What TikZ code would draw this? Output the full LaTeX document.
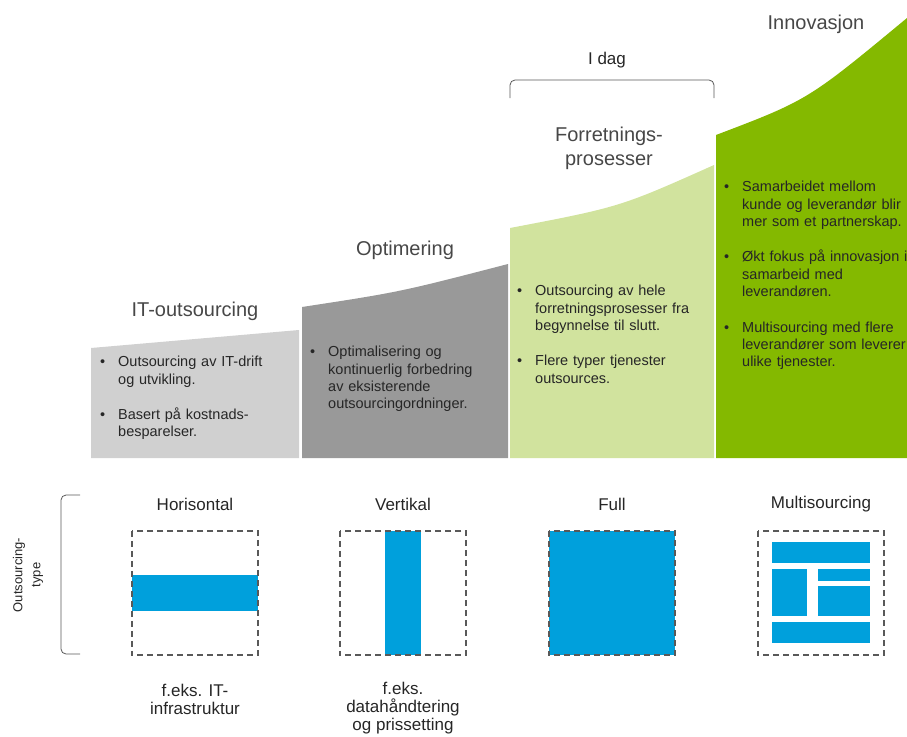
\documentclass[tikz,border=0pt]{standalone}
\usepackage{fontspec}
\setmainfont{Liberation Sans}
\definecolor{stepA}{HTML}{D0D0D0}
\definecolor{stepB}{HTML}{999999}
\definecolor{stepC}{HTML}{D1E39E}
\definecolor{stepD}{HTML}{84B900}
\definecolor{tile}{HTML}{00A0DC}
\definecolor{ink}{HTML}{262626}
\definecolor{rule}{HTML}{595959}
\newcommand\pkt[1]{\noindent\hangindent=18pt\hangafter=1\makebox[18pt][l]{\textbullet}#1\par}
\begin{document}
\begin{tikzpicture}[x=1pt,y=-1pt,
  ttl/.style={font=\fontsize{20}{24}\selectfont,text=ink!85,align=center},
  pts/.style={anchor=north west,inner sep=0pt,text width=220pt,text=ink,
    font=\fontsize{14.5}{17.4}\selectfont\setlength{\parskip}{18pt}},
  kind/.style={font=\fontsize{17}{18}\selectfont,text=ink,align=center},
  side/.style={font=\fontsize{13}{18}\selectfont,text=ink,align=center},
  frame/.style={minimum width=126pt,minimum height=124pt,inner sep=0pt},
  framed/.style={draw=rule,line width=1.6pt,dash pattern=on 6pt off 4pt},
  curly/.style={draw=rule,line width=0.8pt,rounded corners=5pt}]
\useasboundingbox (0,0) rectangle (907,736);
\fill[stepA] (91,458) -- (91,348) -- (299,330) -- (299,458) -- cycle;
\fill[stepB] (302,458) -- (302,307) .. controls (400,292) .. (508,264) -- (508,458) -- cycle;
\fill[stepC] (510,458) -- (510,228) .. controls (620,207) .. (714,165) -- (714,458) -- cycle;
\fill[stepD] (716,458) -- (716,135) .. controls (808,100) .. (907,18) -- (907,458) -- cycle;
\node[ttl] (t-it) at (195,311) {IT-outsourcing};
\node[ttl] (t-opt) at (405,250) {Optimering};
\node[ttl] (t-proc) at (609,148) {Forretnings-\\prosesser};
\node[ttl] (t-inn) at (816,24) {Innovasjon};
\node[kind] (t-today) at (607,60) {I dag};
\draw[curly] (510,98) -- (510,80) -- (714,80) -- (714,98);
\node[pts] (p-it) at (100,356) {\pkt{Outsourcing av IT-drift\newline og utvikling.}%
  \pkt{Basert på kostnads-\newline besparelser.}};
\node[pts] (p-opt) at (310,346) {\pkt{Optimalisering og\newline kontinuerlig forbedring\newline
  av eksisterende\newline outsourcingordninger.}};
\node[pts] (p-proc) at (517,285) {\pkt{Outsourcing av hele\newline forretningsprosesser fra\newline
  begynnelse til slutt.}\pkt{Flere typer tjenester\newline outsources.}};
\node[pts] (p-inn) at (724,181) {\pkt{Samarbeidet mellom\newline kunde og leverandør blir\newline
  mer som et partnerskap.}\pkt{Økt fokus på innovasjon i\newline samarbeid med\newline
  leverandøren.}\pkt{Multisourcing med flere\newline leverandører som leverer\newline ulike tjenester.}};
% outsourcing types
\foreach \x/\n/\t in {195/hor/Horisontal,403/ver/Vertikal,612/full/Full,821/multi/Multisourcing}
{
  \node[kind] (k-\n) at (\x,504) {\t};
  \node[frame] (f-\n) at (\x,593) {};
}
\fill[tile] ([yshift=18pt]f-hor.west) rectangle ([yshift=-18pt]f-hor.east);
\fill[tile] ([xshift=-18pt]f-ver.north) rectangle ([xshift=18pt]f-ver.south);
\fill[tile] (f-full.north west) rectangle (f-full.south east);
\begin{scope}[shift={(f-multi.center)}]
  \fill[tile] (-49,-51) rectangle (49,-30);
  \fill[tile] (-49,-24) rectangle (-14,23);
  \fill[tile] (-3,-24) rectangle (49,-12);
  \fill[tile] (-3,-7) rectangle (49,23);
  \fill[tile] (-49,29) rectangle (49,50);
\end{scope}
\foreach \n in {hor,ver,full,multi}
  \draw[framed] (f-\n.north west) rectangle (f-\n.south east);
\draw[curly] (80,495) -- (61,495) -- (61,654) -- (80,654);
\node[side,rotate=90] (l-type) at (28,575) {Outsourcing-\\type};
\node[kind] (n-hor) at (195,699) {f.eks. IT-\\infrastruktur};
\node[kind] (n-ver) at (403,708) {f.eks.\\datahåndtering\\og prissetting};
\end{tikzpicture}
\end{document}
